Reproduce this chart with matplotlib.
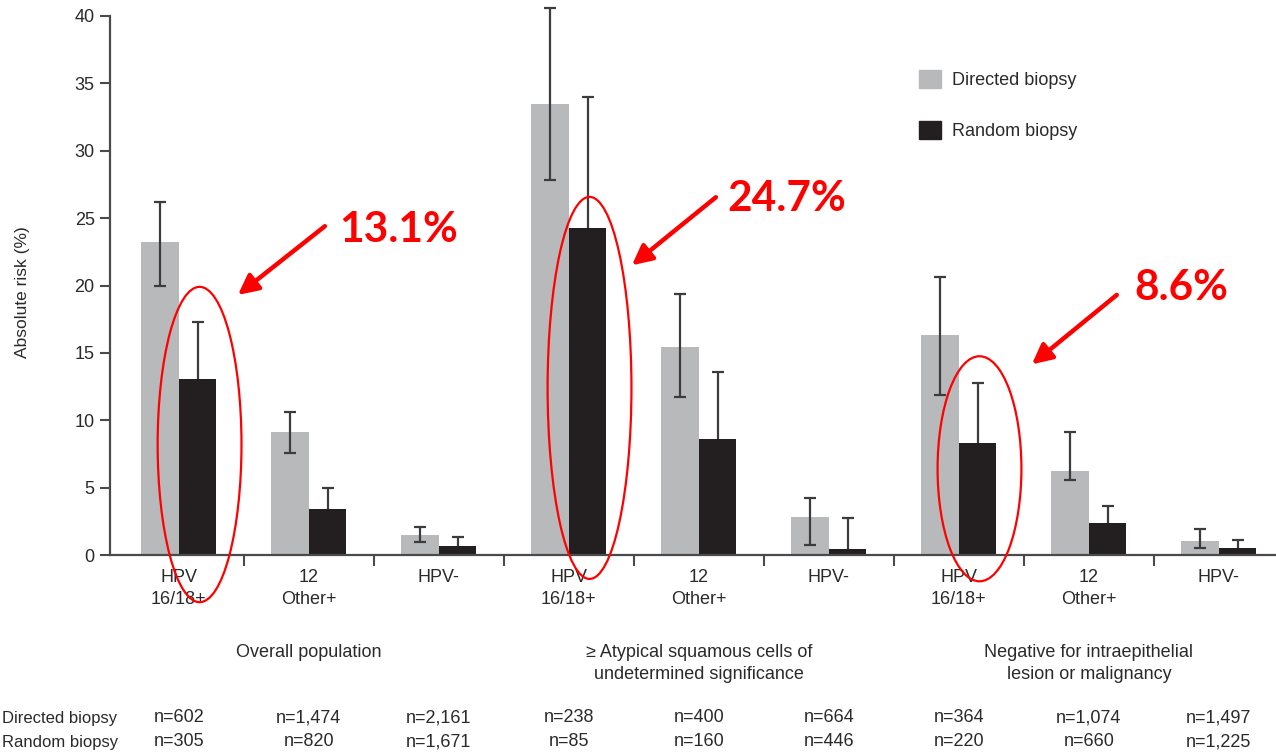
import matplotlib
matplotlib.use("Agg")
import matplotlib.pyplot as plt
import numpy as np
from matplotlib.patches import Ellipse, Patch
from matplotlib.transforms import blended_transform_factory

# ---------------- data ----------------
categories = ["HPV\n16/18+", "12\nOther+", "HPV-"] * 3
groups = ["Overall population",
          "\u2265 Atypical squamous cells of\nundetermined significance",
          "Negative for intraepithelial\nlesion or malignancy"]
directed = [23.2, 9.1, 1.45, 33.5, 15.45, 2.8, 16.3, 6.25, 1.05]
directed_lo = [20.0, 7.6, 1.0, 27.8, 11.75, 0.75, 11.9, 5.6, 0.55]
directed_hi = [26.2, 10.6, 2.05, 40.6, 19.35, 4.2, 20.65, 9.1, 1.9]
random_ = [13.05, 3.4, 0.7, 24.3, 8.6, 0.45, 8.3, 2.35, 0.55]
random_hi = [17.3, 5.0, 1.3, 34.0, 13.6, 2.75, 12.8, 3.65, 1.15]
n_directed = ["n=602", "n=1,474", "n=2,161", "n=238", "n=400", "n=664",
              "n=364", "n=1,074", "n=1,497"]
n_random = ["n=305", "n=820", "n=1,671", "n=85", "n=160", "n=446",
            "n=220", "n=660", "n=1,225"]
highlight_idx = [0, 3, 6]
highlight_text = ["13.1%", "24.7%", "8.6%"]

# ---------------- style ----------------
LIGHT = "#b8b9bb"
DARK = "#231f20"
TXT = "#2a2a2a"
ERR = "#3c3c3c"
RED = "#ff0000"
FS = 13

plt.rcParams['font.family'] = ['Liberation Sans', 'DejaVu Sans']

W, H = 1276, 754
fig = plt.figure(figsize=(W / 100, H / 100), dpi=100)
ax = fig.add_axes([110 / W, 1 - 555 / H, 1 - 110 / W, 555 / H])

x = np.arange(len(categories))
bw = 0.288
xd = x - bw / 2
xr = x + bw / 2

ax.bar(xd, directed, width=bw, color=LIGHT, zorder=2)
ax.bar(xr, random_, width=bw, color=DARK, zorder=2)

d = np.array(directed)
ax.errorbar(xd, d, yerr=[d - np.array(directed_lo), np.array(directed_hi) - d],
            fmt='none', ecolor=ERR, elinewidth=1.6, capsize=4, capthick=1.6, zorder=3)
r = np.array(random_)
eb = ax.errorbar(xr, r, yerr=[np.zeros_like(r), np.array(random_hi) - r],
                 fmt='none', ecolor=ERR, elinewidth=1.6, capsize=4, capthick=1.6,
                 zorder=1.5)
eb[1][0].set_visible(False)

ax.set_xlim(-0.53, 8.44)
ax.set_ylim(0, 555 / 13.475)
for s in ["top", "right"]:
    ax.spines[s].set_visible(False)
ax.spines["left"].set_bounds(0, 40)
for s in ["left", "bottom"]:
    ax.spines[s].set_color("#4a4a4a")
    ax.spines[s].set_linewidth(1.6)

ax.set_yticks(np.arange(0, 41, 5))
ax.tick_params(axis='y', length=7, width=1.5, color="#4a4a4a", labelsize=FS,
               labelcolor=TXT, pad=4)
ax.set_xticks(np.arange(0.5, 8, 1))
ax.set_xticklabels([])
ax.tick_params(axis='x', which='major', length=8, width=1.5, color="#4a4a4a")
ax.set_xticks(x, minor=True)
ax.set_xticklabels(categories, minor=True, fontsize=FS, color=TXT, linespacing=1.4)
ax.tick_params(axis='x', which='minor', length=0, pad=10)

ax.set_ylabel("Absolute risk (%)", fontsize=12.5, color=TXT)
ax.yaxis.set_label_coords(-80 / 1166, 0.474)

# legend
handles = [Patch(color=LIGHT, label="Directed biopsy"),
           Patch(color=DARK, label="Random biopsy")]
ax.legend(handles=handles, loc="upper left", bbox_to_anchor=(919 / W, 1 - 70 / H),
          bbox_transform=fig.transFigure, frameon=False, fontsize=FS,
          handlelength=1.2, handleheight=1.15, handletextpad=0.6,
          labelspacing=1.75, borderpad=0, borderaxespad=0, labelcolor=TXT)

# group labels and n rows
bt = blended_transform_factory(ax.transData, fig.transFigure)
for gi, g in enumerate(groups):
    ax.text(gi * 3 + 1, 1 - 644 / H, g, transform=bt, ha='center', va='top',
            fontsize=FS, color=TXT, linespacing=1.38)
for i in range(len(categories)):
    ax.text(x[i], 1 - 718 / H, n_directed[i], transform=bt, ha='center', va='center',
            fontsize=FS, color=TXT)
    ax.text(x[i], 1 - 742 / H, n_random[i], transform=bt, ha='center', va='center',
            fontsize=FS, color=TXT)
fig.text(2 / W, 1 - 718 / H, "Directed biopsy", ha='left', va='center',
         fontsize=12, color=TXT)
fig.text(2 / W, 1 - 742 / H, "Random biopsy", ha='left', va='center',
         fontsize=12, color=TXT)

# red highlights
ell_cy = [8.2, 12.4, 6.4]
ell_h = [23.4, 28.35, 16.7]
arrow_from = [(1.123, 24.4), (4.131, 26.55), (7.215, 19.3)]
arrow_to = [(0.454, 19.3), (3.485, 21.5), (6.562, 14.15)]
text_pos = [(1.692, 24.1), (4.673, 26.4), (7.708, 19.8)]
for k, idx in enumerate(highlight_idx):
    e = Ellipse((xr[idx] + 0.015, ell_cy[k]), 0.645, ell_h[k], fill=False,
                edgecolor=RED, linewidth=1.6, clip_on=False, zorder=5)
    ax.add_patch(e)
    ax.annotate("", xy=arrow_to[k], xytext=arrow_from[k],
                arrowprops=dict(arrowstyle="-|>,head_length=1.2,head_width=0.6",
                                color=RED, lw=3.2, shrinkA=0, shrinkB=0),
                zorder=6, annotation_clip=False)
    ax.text(*text_pos[k], highlight_text[k], ha='center', va='center', color=RED,
            fontsize=30.5, fontweight='bold', family=['Lato', 'DejaVu Sans'], zorder=6)

fig.savefig("out.png", dpi=100)
